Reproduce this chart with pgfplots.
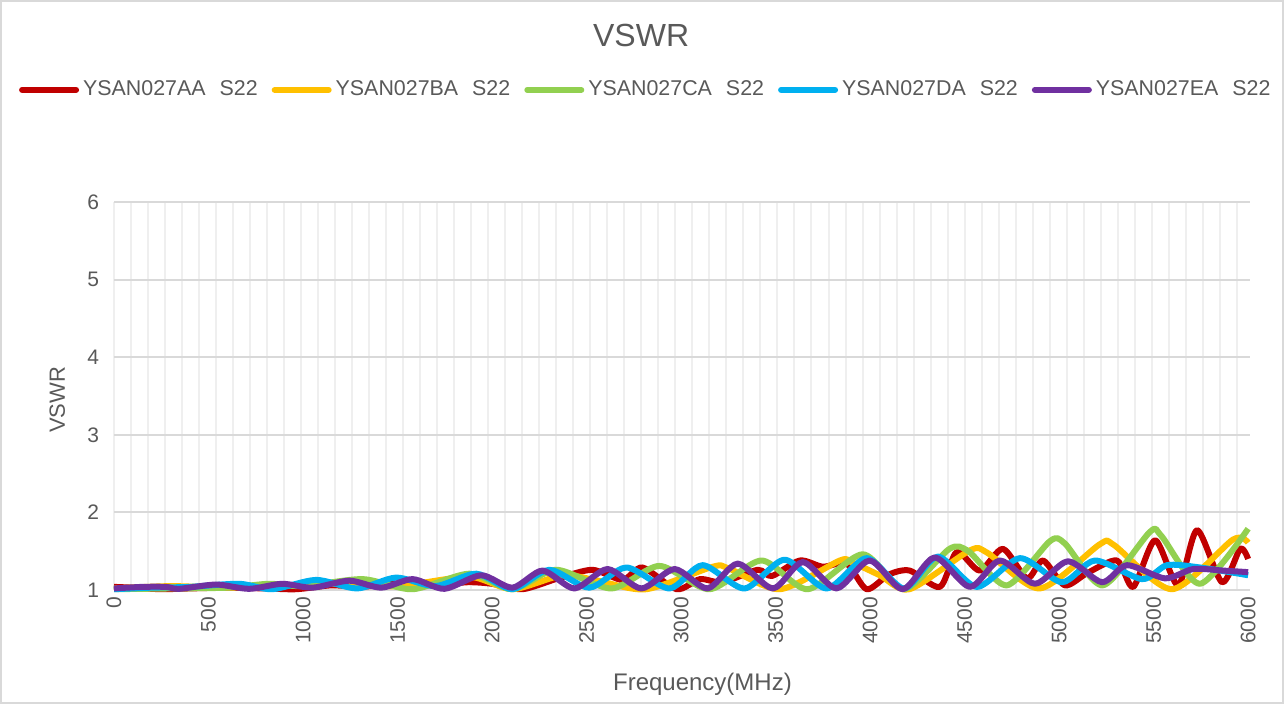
\documentclass[border=0pt]{standalone}
\usepackage{pgfplots}
\pgfplotsset{compat=1.18}
\usepackage{fontspec}
\setmainfont{Liberation Sans}
\definecolor{textgray}{HTML}{595959}
\definecolor{majgrid}{HTML}{D9D9D9}
\definecolor{mingrid}{HTML}{EFEFEF}
\definecolor{cA}{HTML}{C00000}
\definecolor{cB}{HTML}{FFC000}
\definecolor{cC}{HTML}{92D050}
\definecolor{cD}{HTML}{00B0F0}
\definecolor{cE}{HTML}{7030A0}
\begin{document}
\begin{tikzpicture}
\path[use as bounding box] (0pt,0pt) rectangle (642pt,352pt);
\draw[majgrid, line width=0.8pt] (0.6pt,0.6pt) rectangle (641.4pt,351.4pt);
\begin{axis}[
  at={(57pt,57pt)}, anchor=south west,
  scale only axis, width=568pt, height=194pt,
  xmin=0, xmax=6010, ymin=1, ymax=6,
  clip=false,
  axis line style={draw=none},
  tick style={draw=none},
  xtick={0,500,...,6000},
  minor xtick={0,90,...,5940},
  ytick={1,2,3,4,5,6},
  xmajorgrids=false, xminorgrids=true, ymajorgrids=true,
  major grid style={majgrid, line width=1pt},
  minor grid style={mingrid, line width=1pt},
  /pgf/number format/assume math mode=true,
  /pgf/number format/1000 sep={},
  ticklabel style={font=\fontsize{10.5}{12}\selectfont, text=textgray},
  xticklabel style={rotate=90, anchor=east, xshift=0pt},
  yticklabel style={xshift=-4pt},
  title={VSWR},
  title style={at={(axis description cs:0.464,1.397)}, anchor=center, font=\fontsize{16}{19}\selectfont, text=textgray},
  xlabel={Frequency(MHz)},
  xlabel style={at={(axis description cs:0.518,-0.242)}, anchor=center, font=\fontsize{12}{14}\selectfont, text=textgray},
  ylabel={VSWR},
  ylabel style={at={(axis description cs:-0.05,0.49)}, anchor=center, font=\fontsize{11}{13}\selectfont, text=textgray},
  legend style={at={(axis description cs:0.469,1.289)}, anchor=center, draw=none, fill=none,
    legend columns=5, font=\fontsize{10.7}{12}\selectfont, text=textgray,
    /tikz/every even column/.append style={column sep=5pt}},
  legend image code/.code={\draw[#1, line width=3pt, line cap=round] (0pt,0pt) -- (27pt,0pt);},
  every axis plot/.append style={line width=3pt, smooth, tension=0.45, line join=round},
]
\addplot[cA] coordinates {
(0,1.04) (100,1.03) (250,1.01) (400,1.02) (600,1.03) (800,1.02) (965,1.01) (1150,1.06) (1300,1.04) (1500,1.08) (1700,1.06) (1870,1.10) (2000,1.08) (2161,1.01) (2350,1.15) (2531,1.26) (2690,1.13) (2796,1.29) (2976,1.01) (3100,1.14) (3220,1.10) (3405,1.26) (3480,1.18) (3628,1.38) (3750,1.30) (3876,1.34) (3982,1.01) (4100,1.20) (4210,1.25) (4369,1.04) (4459,1.49) (4580,1.25) (4703,1.53) (4830,1.15) (4915,1.38) (5030,1.06) (5150,1.22) (5306,1.38) (5392,1.04) (5508,1.64) (5630,1.06) (5730,1.77) (5862,1.10) (5958,1.53) (6000,1.40)
};
\addlegendentry{YSAN027AA\hspace{7pt}S22}
\addplot[cB] coordinates {
(0,1.02) (300,1.05) (600,1.03) (900,1.06) (1200,1.08) (1500,1.05) (1880,1.17) (2108,1.01) (2374,1.19) (2560,1.12) (2816,1.01) (3168,1.30) (3250,1.28) (3523,1.01) (3840,1.38) (3900,1.36) (4051,1.19) (4209,1.01) (4528,1.51) (4620,1.48) (4898,1.02) (5216,1.59) (5290,1.58) (5598,1.01) (5920,1.65) (6000,1.61)
};
\addlegendentry{YSAN027BA\hspace{7pt}S22}
\addplot[cC] coordinates {
(0,1.01) (300,1.02) (600,1.03) (820,1.08) (1000,1.05) (1315,1.14) (1580,1.01) (1880,1.21) (2108,1.01) (2340,1.26) (2632,1.02) (2886,1.31) (3151,1.01) (3426,1.38) (3670,1.01) (3961,1.46) (4180,1.01) (4420,1.53) (4520,1.50) (4724,1.06) (4952,1.63) (5030,1.60) (5232,1.06) (5481,1.75) (5540,1.70) (5746,1.08) (6000,1.79)
};
\addlegendentry{YSAN027CA\hspace{7pt}S22}
\addplot[cD] coordinates {
(0,1.01) (200,1.03) (400,1.04) (662,1.08) (838,1.01) (1070,1.13) (1287,1.02) (1493,1.16) (1700,1.05) (1917,1.21) (2108,1.01) (2303,1.26) (2515,1.03) (2711,1.29) (2939,1.02) (3114,1.32) (3336,1.02) (3548,1.39) (3770,1.02) (3982,1.41) (4180,1.02) (4358,1.43) (4565,1.04) (4793,1.41) (5015,1.10) (5190,1.38) (5439,1.14) (5571,1.32) (5746,1.29) (6000,1.19)
};
\addlegendentry{YSAN027DA\hspace{7pt}S22}
\addplot[cE] coordinates {
(0,1.02) (150,1.04) (275,1.04) (344,1.015) (540,1.07) (715,1.015) (890,1.08) (1050,1.03) (1245,1.12) (1414,1.03) (1580,1.14) (1748,1.015) (1943,1.19) (2108,1.03) (2267,1.25) (2436,1.02) (2611,1.27) (2790,1.02) (2966,1.27) (3140,1.02) (3300,1.34) (3486,1.02) (3644,1.36) (3822,1.02) (3998,1.38) (4173,1.01) (4342,1.42) (4528,1.04) (4687,1.38) (4872,1.08) (5047,1.37) (5227,1.10) (5359,1.32) (5560,1.15) (5709,1.27) (5868,1.25) (6000,1.23)
};
\addlegendentry{YSAN027EA\hspace{7pt}S22}
\end{axis}
\end{tikzpicture}
\end{document}
